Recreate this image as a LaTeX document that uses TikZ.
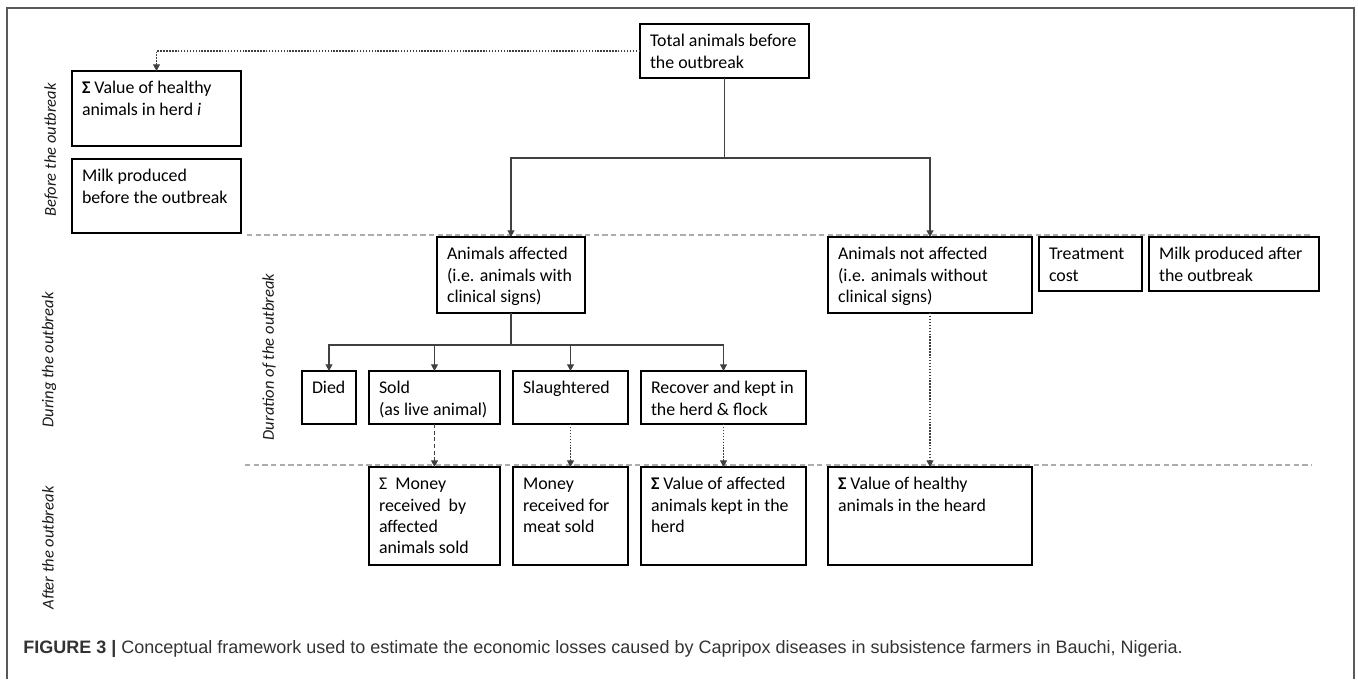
\documentclass[tikz,border=0pt]{standalone}
\usepackage{fontspec}
\setmainfont{Carlito}
\newfontfamily\capfont{Liberation Sans}
\usetikzlibrary{arrows.meta}
\newdimen\px \px=0.75pt
\newcommand\bxt[3]{\parbox[t][#2\px][t]{#1\px}{\begin{tabular}[t]{@{}l@{}}#3\end{tabular}}}
\begin{document}
\begin{tikzpicture}[x={(0.75pt,0)}, y={(0,-0.75pt)},
  bx/.style={draw=black, line width=1.05pt, inner xsep=7.5pt, inner ysep=6pt, anchor=north west, outer sep=0pt, font=\fontsize{13.4}{16}\selectfont},
  conn/.style={draw=black!75, line width=0.85pt},
  arr/.style={conn, -{Triangle[width=5.2pt,length=5pt]}},
  dotarr/.style={arr, dash pattern=on 1.1pt off 1.1pt},
  dasharr/.style={arr, dash pattern=on 3pt off 2pt},
  sepline/.style={draw=black!32, line width=0.9pt, dash pattern=on 4pt off 2.5pt},
  lab/.style={rotate=90, inner sep=0pt, font=\fontsize{12.4}{14}\selectfont\itshape, text=black!90},
  framel/.style={draw=black!65, line width=1.3pt}]
\useasboundingbox (0,0) rectangle (1358,679);
\draw[framel] (7,679) -- (7,8) -- (1354,8) -- (1354,679);
% separators
\draw[sepline] (247,235) -- (1312,235);
\draw[sepline] (245,465) -- (1312,465);
% boxes
\node[bx] (tot) at (640,24) {\bxt{149}{38}{Total animals before\\the outbreak}};
\node[bx] (vh) at (72,71) {\bxt{149}{59}{\textbf{Σ} Value of healthy\\animals in herd \textit{i}}};
\node[bx] (mb) at (72,159) {\bxt{149}{58}{Milk produced\\before the outbreak}};
\node[bx] (aff) at (437,237) {\bxt{128}{60}{Animals affected\\(i.e. animals with\\clinical signs)}};
\node[bx] (naff) at (828,237) {\bxt{184}{60}{Animals not affected\\(i.e. animals without\\clinical signs)}};
\node[bx] (treat) at (1039,237) {\bxt{83}{38}{Treatment\\cost}};
\node[bx] (ma) at (1149,237) {\bxt{150}{38}{Milk produced after\\the outbreak}};
\node[bx] (died) at (302,371) {\bxt{34}{37}{Died}};
\node[bx] (sold) at (369,371) {\bxt{111}{37}{Sold\\(as live animal)}};
\node[bx] (sl) at (513,371) {\bxt{95}{37}{Slaughtered}};
\node[bx] (rec) at (641,371) {\bxt{145}{37}{Recover and kept in\\the herd \& flock}};
\node[bx] (mr) at (369,467) {\bxt{111}{82}{Σ\ \ Money\\received\ \ by\\affected\\animals sold}};
\node[bx] (mm) at (513,467) {\bxt{95}{82}{Money\\received for\\meat sold}};
\node[bx] (va) at (641,467) {\bxt{145}{82}{\textbf{Σ} Value of affected\\animals kept in the\\herd}};
\node[bx] (vhh) at (828,467) {\bxt{184}{82}{\textbf{Σ} Value of healthy\\animals in the heard}};
% connectors
\coordinate (j1) at (tot.south |- 0,158);
\draw[conn] (tot.south) -- (j1);
\draw[arr] (j1) -| (aff.north);
\draw[arr] (j1) -| (naff.north);
\coordinate (j2) at (aff.south |- 0,345);
\draw[conn] (aff.south) -- (j2);
\draw[arr] (j2) -| (died.north);
\draw[arr] (j2) -| (sold.north);
\draw[arr] (j2) -| (sl.north);
\draw[arr] (j2) -| (rec.north);
\draw[dotarr] (tot.west) -| (vh.north);
\draw[dasharr] (sold.south) -- (mr.north);
\draw[dotarr] (sl.south) -- (mm.north);
\draw[dotarr] (rec.south) -- (va.north);
\draw[dotarr] (naff.south) -- (vhh.north);
% side labels
\node[lab] (l1) at (51,150) {Before the outbreak};
\node[lab] (l2) at (49,360) {During the outbreak};
\node[lab] (l3) at (269,357) {Duration of the outbreak};
\node[lab] (l4) at (48,548) {After the outbreak};
% caption
\node[anchor=west, inner sep=0pt, font=\capfont\fontsize{13.5}{16}\selectfont, text=black!80] (cap) at (23,649) {\textbf{FIGURE 3 |} Conceptual framework used to estimate the economic losses caused by Capripox diseases in subsistence farmers in Bauchi, Nigeria.};
\end{tikzpicture}
\end{document}
